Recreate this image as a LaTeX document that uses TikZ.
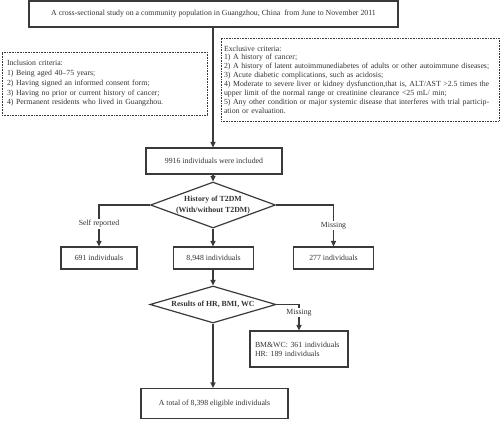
\documentclass[tikz,border=0pt]{standalone}
\usepackage{fontspec}
\setmainfont{Liberation Serif}
\usetikzlibrary{shapes.geometric,arrows.meta}
\definecolor{ink}{HTML}{333333}
\definecolor{edge}{HTML}{3A3A3A}
\begin{document}
\begin{tikzpicture}[x=1pt,y=-1pt,
  every node/.style={text=ink,font=\fontsize{7.8}{9.2}\selectfont},
  solidbox/.style={draw=edge,line width=1.2pt,rectangle,inner sep=0pt,align=center},
  dotbox/.style={draw=edge,line width=0.9pt,dash pattern=on 0.8pt off 0.8pt,rectangle,inner xsep=5pt,inner ysep=0pt,align=left},
  decision/.style={draw=edge,line width=1.2pt,diamond,inner sep=-3pt,align=center,font=\bfseries\fontsize{7.8}{11}\selectfont},
  conn/.style={draw=edge,line width=1.2pt,-{Triangle[length=5.5pt,width=5pt]}},
  lab/.style={fill=white,inner sep=1pt}]
\useasboundingbox (0,0) rectangle (500,420);
\fill[white] (0,0) rectangle (500,420);

\node[solidbox,minimum width=369pt,minimum height=26pt] (top) at (213.5,14)
  {A cross-sectional study on a community population in Guangzhou, China\ \ from June to November 2011};

\node[dotbox,minimum width=205pt,minimum height=63pt,text width=195pt,font=\fontsize{7.8}{9.7}\selectfont] (incl) at (104.5,83.5)
  {Inclusion criteria:\\
   1) Being aged 40--75 years;\\
   2) Having signed an informed consent form;\\
   3) Having no prior or current history of cancer;\\
   4) Permanent residents who lived in Guangzhou.};

\node[dotbox,inner xsep=3pt,minimum width=278pt,minimum height=83pt,text width=272pt,font=\fontsize{7.8}{8.9}\selectfont] (excl) at (360,79.5)
  {Exclusive criteria:\\
   1) A history of cancer;\\
   2) A history of latent autoimmunediabetes of adults or other autoimmune diseases;\\
   3) Acute diabetic complications, such as acidosis;\\
   4) Moderate to severe liver or kidney dysfunction,that is, ALT/AST >2.5 times the\\
   upper limit of the normal range or creatinine clearance <25 mL/ min;\\
   5) Any other condition or major systemic disease that interferes with trial particip-\\
   ation or evaluation.};

\node[solidbox,minimum width=136pt,minimum height=26pt] (incd) at (214,161) {9916 individuals were included};

\node[decision,minimum width=125pt,minimum height=46pt,aspect=2.7] (d1) at (213,205)
  {History of T2DM\\(With/without T2DM)};

\node[solidbox,minimum width=76pt,minimum height=22pt] (n691) at (99,258) {691 individuals};
\node[solidbox,minimum width=80pt,minimum height=22pt] (n8948) at (213.5,258) {8,948 individuals};
\node[solidbox,minimum width=80pt,minimum height=22pt] (n277) at (333.5,258) {277 individuals};

\node[decision,minimum width=126pt,minimum height=37pt,aspect=3.4,inner sep=0pt] (d2) at (213,304.5)
  {Results of HR, BMI, WC};

\node[solidbox,minimum width=98pt,minimum height=36pt,align=left,text width=88pt] (miss) at (299,349)
  {BM\&WC: 361 individuals\\HR: 189 individuals};

\node[solidbox,minimum width=147pt,minimum height=30pt] (final) at (214.5,403.5)
  {A total of 8,398 eligible individuals};

\draw[conn] (top.south -| d1.north) -- (d1.north |- incd.north);
\draw[conn] (incd.south -| d1.north) -- (d1.north);
\draw[conn] (d1.west) -| node[lab,pos=0.73] {Self reported} (n691.north);
\draw[conn] (d1.east) -| node[lab,pos=0.75] {Missing} (n277.north);
\draw[conn] (d1.south) -- (d1.south |- n8948.north);
\draw[conn] (d1.south |- n8948.south) -- (d2.north);
\draw[conn] (d2.east) -| node[lab,pos=0.66] {Missing} (miss.north);
\draw[conn] (d2.south) -- (d2.south |- final.north);
\end{tikzpicture}
\end{document}
